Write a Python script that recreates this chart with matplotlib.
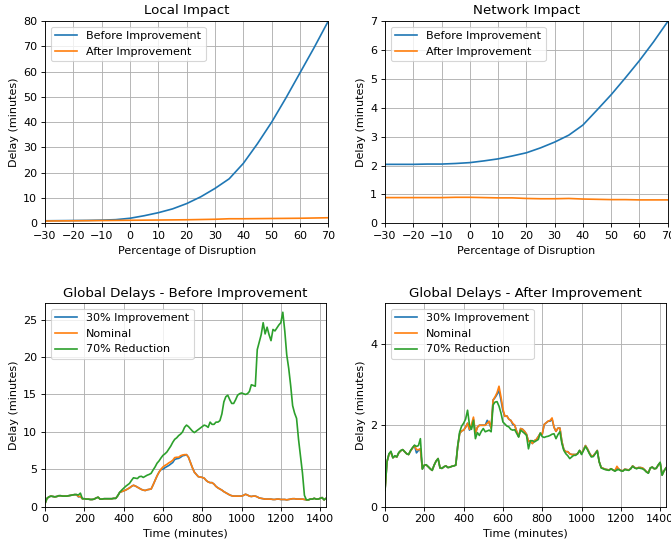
import numpy as np
import matplotlib.pyplot as plt

# disruption sweep (percent)
disruption = [-30, -25, -20, -15, -10, -5, 0, 5, 10, 15, 20, 25, 30, 35, 40, 45, 50, 55, 60, 65, 70]

local_before = [1.0, 1.05, 1.1, 1.15, 1.25, 1.45, 2.0, 3.0, 4.2, 5.7, 7.8, 10.5, 13.8, 17.6,
                23.7, 31.5, 40.0, 49.5, 59.5, 69.5, 80.0]
local_after = [0.9, 0.95, 1.0, 1.05, 1.1, 1.15, 1.2, 1.25, 1.3, 1.35, 1.4, 1.5, 1.6, 1.8,
               1.8, 1.85, 1.9, 1.95, 2.0, 2.1, 2.2]

network_before = [2.04, 2.04, 2.04, 2.05, 2.05, 2.07, 2.10, 2.16, 2.23, 2.33, 2.44, 2.61, 2.81,
                  3.05, 3.40, 3.92, 4.45, 5.03, 5.63, 6.28, 6.98]
network_after = [0.89, 0.89, 0.89, 0.89, 0.89, 0.90, 0.90, 0.89, 0.88, 0.88, 0.86, 0.85, 0.85,
                 0.86, 0.84, 0.83, 0.82, 0.82, 0.81, 0.81, 0.81]

# time of day in minutes, one sample every 10 minutes
time_min = np.arange(0, 1440, 10)

before_nominal = [
    0.40, 1.10, 1.30, 1.40, 1.35, 1.30, 1.35, 1.45, 1.45, 1.40,
    1.40, 1.40, 1.45, 1.50, 1.55, 1.60, 1.60, 1.35, 1.35, 1.05,
    1.05, 1.00, 1.00, 0.95, 0.95, 1.00, 1.15, 1.25, 1.00, 1.00,
    1.05, 1.05, 1.05, 1.05, 1.05, 1.10, 1.10, 1.45, 1.90, 2.00,
    2.10, 2.20, 2.35, 2.50, 2.70, 2.85, 2.75, 2.60, 2.45, 2.30,
    2.20, 2.15, 2.25, 2.30, 2.35, 2.90, 3.50, 4.10, 4.60, 5.00,
    5.30, 5.50, 5.65, 5.85, 6.00, 6.20, 6.55, 6.60, 6.60, 6.80,
    6.90, 6.95, 6.95, 6.60, 5.90, 5.20, 4.60, 4.30, 4.00, 3.95,
    3.90, 3.80, 3.50, 3.30, 3.20, 3.20, 3.00, 2.70, 2.50, 2.35,
    2.20, 2.00, 1.85, 1.70, 1.55, 1.45, 1.40, 1.40, 1.40, 1.40,
    1.40, 1.50, 1.65, 1.55, 1.40, 1.35, 1.40, 1.40, 1.30, 1.15,
    1.10, 1.05, 1.00, 1.00, 1.00, 1.00, 0.95, 0.95, 1.00, 1.00,
    0.95, 0.95, 0.95, 0.90, 0.95, 1.00, 1.05, 1.05, 1.00, 1.00,
    1.00, 1.00, 0.95, 0.90, 0.90, 1.00, 1.00, 1.10, 1.00, 1.00,
    1.10, 1.20, 0.90, 1.10]

before_improved = [
    0.40, 1.10, 1.30, 1.40, 1.35, 1.30, 1.35, 1.45, 1.45, 1.40,
    1.40, 1.40, 1.45, 1.50, 1.55, 1.60, 1.60, 1.30, 1.35, 1.05,
    1.05, 1.00, 1.00, 0.95, 0.95, 1.00, 1.15, 1.25, 1.00, 1.00,
    1.05, 1.05, 1.05, 1.05, 1.05, 1.10, 1.10, 1.45, 1.90, 2.00,
    2.10, 2.20, 2.35, 2.50, 2.70, 2.85, 2.75, 2.60, 2.45, 2.30,
    2.20, 2.15, 2.25, 2.30, 2.35, 2.90, 3.50, 4.10, 4.60, 4.95,
    5.00, 5.20, 5.35, 5.50, 5.70, 5.90, 6.30, 6.40, 6.45, 6.60,
    6.80, 6.85, 6.95, 6.60, 5.90, 5.20, 4.60, 4.30, 4.00, 3.95,
    3.90, 3.80, 3.50, 3.30, 3.20, 3.20, 3.00, 2.70, 2.50, 2.35,
    2.20, 2.00, 1.85, 1.70, 1.55, 1.45, 1.40, 1.40, 1.40, 1.40,
    1.40, 1.50, 1.65, 1.55, 1.40, 1.35, 1.40, 1.40, 1.30, 1.15,
    1.10, 1.05, 1.00, 1.00, 1.00, 1.00, 0.95, 0.95, 1.00, 1.00,
    0.95, 0.95, 0.95, 0.90, 0.95, 1.00, 1.05, 1.05, 1.00, 1.00,
    1.00, 1.00, 0.95, 0.90, 0.90, 1.00, 1.00, 1.10, 1.00, 1.00,
    1.10, 1.20, 0.90, 1.10]

before_reduced = [
    0.40, 1.10, 1.30, 1.40, 1.35, 1.30, 1.35, 1.45, 1.45, 1.40,
    1.40, 1.40, 1.45, 1.50, 1.55, 1.60, 1.60, 1.55, 1.80, 1.05,
    1.05, 1.00, 1.00, 0.95, 0.95, 1.00, 1.15, 1.25, 1.00, 1.00,
    1.05, 1.05, 1.05, 1.05, 1.05, 1.10, 1.10, 1.45, 1.90, 2.20,
    2.45, 2.70, 2.90, 3.10, 3.50, 3.85, 3.80, 3.75, 4.00, 4.05,
    3.90, 4.05, 4.20, 4.30, 4.45, 4.90, 5.30, 5.80, 6.10, 6.50,
    6.85, 7.05, 7.30, 7.70, 8.10, 8.60, 9.00, 9.20, 9.50, 9.70,
    10.0, 10.6, 10.9, 10.7, 10.4, 10.1, 9.90, 10.1, 10.3, 10.5,
    10.7, 10.9, 10.8, 10.6, 11.3, 11.0, 11.0, 11.3, 11.3, 11.5,
    12.4, 14.0, 14.7, 14.9, 14.3, 13.8, 13.8, 14.3, 14.9, 15.1,
    15.2, 15.1, 15.0, 15.1, 15.4, 16.3, 16.2, 16.1, 21.0, 22.0,
    23.0, 24.6, 23.1, 24.0, 23.0, 22.2, 23.7, 23.5, 23.9, 24.3,
    24.6, 26.0, 23.5, 20.3, 18.5, 16.2, 13.5, 12.5, 11.8, 9.00,
    6.80, 4.50, 1.50, 0.90, 0.90, 1.00, 1.00, 1.10, 1.00, 1.00,
    1.10, 1.20, 0.90, 1.10]

after_nominal = [
    0.40, 1.10, 1.28, 1.34, 1.20, 1.24, 1.22, 1.32, 1.37, 1.40,
    1.35, 1.30, 1.28, 1.37, 1.44, 1.50, 1.40, 1.40, 1.42, 0.93,
    1.02, 1.02, 0.98, 0.93, 0.89, 1.02, 1.12, 1.18, 0.95, 0.94,
    0.98, 1.00, 0.96, 0.97, 0.99, 1.00, 1.02, 1.48, 1.80, 1.86,
    1.88, 1.95, 2.05, 1.90, 2.02, 2.20, 1.80, 1.95, 2.00, 2.00,
    2.00, 2.00, 2.05, 2.10, 1.93, 2.62, 2.70, 2.80, 2.96, 2.70,
    2.40, 2.22, 2.23, 2.15, 2.12, 2.05, 2.00, 1.85, 1.72, 1.92,
    1.90, 1.85, 1.78, 1.60, 1.62, 1.55, 1.62, 1.65, 1.72, 1.80,
    1.78, 2.02, 2.06, 2.10, 2.12, 2.18, 1.95, 1.85, 1.93, 1.93,
    1.60, 1.40, 1.35, 1.35, 1.30, 1.28, 1.28, 1.28, 1.30, 1.38,
    1.30, 1.40, 1.50, 1.42, 1.32, 1.24, 1.25, 1.31, 1.38, 1.10,
    0.96, 0.94, 0.92, 0.91, 0.90, 0.93, 0.90, 0.88, 0.99, 0.92,
    0.89, 0.88, 0.92, 0.91, 0.90, 0.93, 1.00, 0.96, 0.94, 0.96,
    0.96, 0.95, 0.91, 0.86, 0.83, 0.95, 0.97, 0.93, 0.94, 1.02,
    1.08, 0.78, 0.88, 0.95]

after_improved = [
    0.40, 1.10, 1.28, 1.34, 1.20, 1.24, 1.22, 1.32, 1.37, 1.40,
    1.35, 1.30, 1.28, 1.37, 1.44, 1.50, 1.32, 1.38, 1.42, 0.93,
    1.02, 1.02, 0.98, 0.93, 0.89, 1.02, 1.12, 1.18, 0.95, 0.94,
    0.98, 1.00, 0.96, 0.97, 0.99, 1.00, 1.02, 1.48, 1.80, 1.86,
    1.88, 1.95, 2.05, 1.88, 1.95, 2.15, 1.80, 1.95, 2.00, 2.00,
    2.00, 2.00, 2.12, 2.05, 1.93, 2.62, 2.68, 2.76, 2.85, 2.62,
    2.35, 2.22, 2.23, 2.15, 2.12, 2.02, 2.00, 1.85, 1.72, 1.92,
    1.90, 1.85, 1.78, 1.60, 1.62, 1.55, 1.62, 1.65, 1.72, 1.80,
    1.78, 2.02, 2.06, 2.10, 2.10, 2.15, 1.95, 1.85, 1.93, 1.93,
    1.60, 1.40, 1.35, 1.35, 1.30, 1.28, 1.28, 1.28, 1.30, 1.38,
    1.30, 1.40, 1.50, 1.42, 1.32, 1.24, 1.25, 1.31, 1.38, 1.10,
    0.96, 0.94, 0.92, 0.91, 0.90, 0.93, 0.90, 0.88, 0.95, 0.92,
    0.89, 0.88, 0.92, 0.91, 0.90, 0.93, 1.00, 0.96, 0.94, 0.96,
    0.96, 0.95, 0.91, 0.86, 0.83, 0.95, 0.97, 0.93, 0.94, 1.02,
    1.08, 0.78, 0.88, 0.95]

after_reduced = [
    0.40, 1.10, 1.30, 1.36, 1.20, 1.25, 1.22, 1.33, 1.38, 1.40,
    1.35, 1.30, 1.28, 1.38, 1.45, 1.51, 1.48, 1.50, 1.67, 0.92,
    1.02, 1.03, 0.98, 0.93, 0.89, 1.02, 1.12, 1.18, 0.95, 0.94,
    0.98, 1.00, 0.96, 0.97, 0.99, 1.00, 1.02, 1.50, 1.84, 1.98,
    2.05, 2.15, 2.37, 2.00, 1.90, 2.12, 1.67, 1.82, 1.75, 1.85,
    1.92, 1.84, 1.86, 1.88, 1.84, 2.50, 2.57, 2.58, 2.47, 2.30,
    2.08, 2.03, 1.98, 1.96, 1.90, 1.88, 1.89, 1.80, 1.71, 1.88,
    1.84, 1.80, 1.75, 1.42, 1.62, 1.62, 1.59, 1.62, 1.65, 1.81,
    1.72, 1.70, 1.72, 1.73, 1.75, 1.78, 1.79, 1.67, 1.77, 1.84,
    1.55, 1.38, 1.30, 1.25, 1.18, 1.22, 1.26, 1.26, 1.30, 1.38,
    1.28, 1.38, 1.48, 1.40, 1.30, 1.22, 1.23, 1.30, 1.37, 1.10,
    0.95, 0.93, 0.91, 0.90, 0.89, 0.93, 0.90, 0.87, 0.90, 0.91,
    0.88, 0.87, 0.91, 0.90, 0.89, 0.93, 0.99, 0.95, 0.93, 0.95,
    0.94, 0.93, 0.90, 0.85, 0.82, 0.95, 0.97, 0.93, 0.94, 1.02,
    1.09, 0.77, 0.88, 0.95]

# 80 dpi keeps the text compact on a 671x544 canvas
fig = plt.figure(figsize=(671 / 80, 544 / 80), dpi=80)

# panel positions [left, bottom, width, height] in figure fractions
ax1 = fig.add_axes([0.0671, 0.5895, 0.4222, 0.3719])
ax2 = fig.add_axes([0.5738, 0.5895, 0.4213, 0.3719])
ax3 = fig.add_axes([0.0671, 0.0688, 0.4188, 0.3737])
ax4 = fig.add_axes([0.5738, 0.0688, 0.4188, 0.3737])

ax1.plot(disruption, local_before, label='Before Improvement')
ax1.plot(disruption, local_after, label='After Improvement')
ax1.set_xlim(-30, 70)
ax1.set_ylim(0, 80)
ax1.set_title('Local Impact')
ax1.set_xlabel('Percentage of Disruption')
ax1.set_ylabel('Delay (minutes)')
ax1.set_xticks(range(-30, 71, 10))
ax1.set_yticks(range(0, 81, 10))
ax1.grid(True)
ax1.legend(loc='upper left')

ax2.plot(disruption, network_before, label='Before Improvement')
ax2.plot(disruption, network_after, label='After Improvement')
ax2.set_xlim(-30, 70)
ax2.set_ylim(0, 7)
ax2.set_title('Network Impact')
ax2.set_xlabel('Percentage of Disruption')
ax2.set_ylabel('Delay (minutes)')
ax2.set_xticks(range(-30, 71, 10))
ax2.grid(True)
ax2.legend(loc='upper left')

ax3.plot(time_min, before_improved, label='30% Improvement')
ax3.plot(time_min, before_nominal, label='Nominal')
ax3.plot(time_min, before_reduced, label='70% Reduction')
ax3.set_xlim(0, 1430)
ax3.set_ylim(0, 27.2)
ax3.set_xticks(range(0, 1401, 200))
ax3.set_yticks(range(0, 26, 5))
ax3.set_title('Global Delays - Before Improvement')
ax3.set_xlabel('Time (minutes)')
ax3.set_ylabel('Delay (minutes)')
ax3.grid(True)
ax3.legend(loc='upper left')

ax4.plot(time_min, after_improved, label='30% Improvement')
ax4.plot(time_min, after_nominal, label='Nominal')
ax4.plot(time_min, after_reduced, label='70% Reduction')
ax4.set_xlim(0, 1430)
ax4.set_ylim(0, 5)
ax4.set_xticks(range(0, 1401, 200))
ax4.set_yticks([0, 2, 4])
ax4.set_title('Global Delays - After Improvement')
ax4.set_xlabel('Time (minutes)')
ax4.set_ylabel('Delay (minutes)')
ax4.grid(True)
ax4.legend(loc='upper left')

fig.savefig('out.png', dpi=80)
